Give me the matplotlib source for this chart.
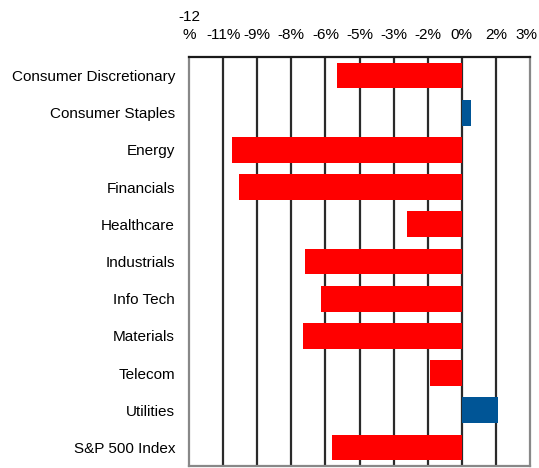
import matplotlib.pyplot as plt
from matplotlib.ticker import FixedLocator
from matplotlib.transforms import ScaledTranslation

plt.rcParams['font.family'] = ['Liberation Sans', 'DejaVu Sans']

# sector returns, %
sectors = ['Consumer Discretionary', 'Consumer Staples', 'Energy', 'Financials',
           'Healthcare', 'Industrials', 'Info Tech', 'Materials', 'Telecom',
           'Utilities', 'S&P 500 Index']
returns = [-5.5, 0.4, -10.1, -9.8, -2.4, -6.9, -6.2, -7.0, -1.4, 1.6, -5.7]

tick_values = [-12, -10.5, -9, -7.5, -6, -4.5, -3, -1.5, 0, 1.5, 3]
tick_labels = ['-12\n%', '-11%', '-9%', '-8%', '-6%', '-5%', '-3%', '-2%', '0%', '2%', '3%']

colors = ['#005596' if r > 0 else '#ff0000' for r in returns]

fig = plt.figure(figsize=(5.39, 4.68), dpi=100)
ax = fig.add_axes([189 / 539, 2 / 468, 341 / 539, 409 / 468])

ypos = list(range(len(sectors)))
ax.barh(ypos, returns, height=0.69, color=colors, zorder=3)

ax.set_xlim(-12, 3)
ax.set_ylim(len(sectors) - 0.5, -0.5)
ax.set_yticks(ypos)
ax.set_yticklabels(sectors, fontsize=11)

ax.xaxis.set_major_locator(FixedLocator(tick_values))
ax.set_xticklabels(tick_labels, fontsize=11, linespacing=1.35)
ax.xaxis.tick_top()
ax.tick_params(axis='x', length=0, pad=11)
ax.tick_params(axis='y', length=0, pad=10)
# nudge the last label left so it stays inside the figure
last = ax.get_xticklabels()[-1]
last.set_transform(last.get_transform() + ScaledTranslation(-0.04, 0, fig.dpi_scale_trans))

for v in tick_values[1:-1]:
    ax.axvline(v, color='#2a2a2a', lw=1.6, zorder=2)

for side in ['left', 'right', 'bottom']:
    ax.spines[side].set_color('#888888')
    ax.spines[side].set_linewidth(1.6)
ax.spines['top'].set_color('#1a1a1a')
ax.spines['top'].set_linewidth(1.6)

fig.savefig('out.png', dpi=100)
